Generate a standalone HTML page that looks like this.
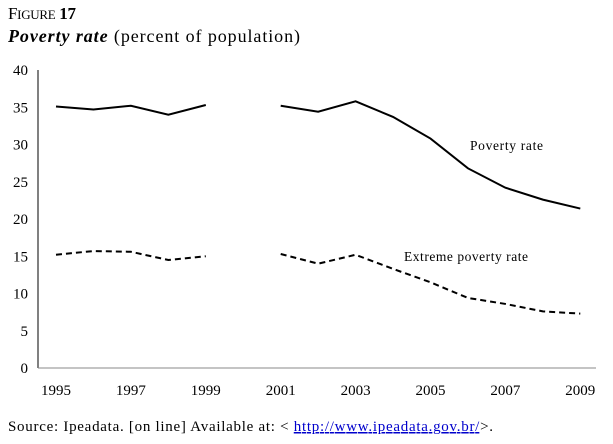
<!DOCTYPE html>
<html><head><meta charset="utf-8"><style>
body{margin:0;background:#fff;width:613px;height:444px;overflow:hidden;font-family:"Liberation Serif",serif;}
svg{display:block}
</style></head><body>
<svg width="613" height="444">
<text x="8" y="19" font-size="17" textLength="68">F<tspan font-size="13">IGURE</tspan> <tspan font-weight="bold">17</tspan></text>
<text x="8" y="42" font-size="18" textLength="292"><tspan font-style="italic" font-weight="bold">Poverty rate</tspan>  (percent of population)</text>
<g id="axes"></g>
<g id="series"></g>
<text x="470" y="150" font-size="13.5" textLength="73">Poverty rate</text>
<text x="404" y="261" font-size="13.5" textLength="124">Extreme poverty rate</text>
<text x="8" y="431" font-size="15" textLength="485">Source: Ipeadata. [on line] Available at: &lt; <tspan fill="#0000cc" text-decoration="underline">http://www.ipeadata.gov.br/</tspan>&gt;.</text>
</svg>
<script>
const years=[1995,1996,1997,1998,1999,2000,2001,2002,2003,2004,2005,2006,2007,2008,2009];
const poverty=[35.1,34.7,35.2,34.0,35.3,null,35.2,34.4,35.8,33.7,30.8,26.8,24.2,22.6,21.4];
const extreme=[15.2,15.7,15.6,14.5,15.0,null,15.3,14.0,15.2,13.3,11.5,9.4,8.6,7.6,7.3];
const yTicks=[0,5,10,15,20,25,30,35,40];
const xTickLabels=[1995,1997,1999,2001,2003,2005,2007,2009];
const NS="http://www.w3.org/2000/svg";
const x=v=>56+(v-1995)*37.45;
const y=v=>368-v*7.45;
function mk(tag,attrs,parent){const e=document.createElementNS(NS,tag);for(const k in attrs)e.setAttribute(k,attrs[k]);parent.appendChild(e);return e;}
const ax=document.getElementById('axes');
let a=mk('line',{x1:38,y1:70,x2:38,y2:368,stroke:'#000','stroke-width':1},ax);


a=mk('line',{x1:38,y1:368,x2:596,y2:368,stroke:'#888','stroke-width':1},ax);


yTicks.forEach(t=>{const e=mk('text',{x:28,y:y(t)+5,'text-anchor':'end','font-size':15},ax);e.textContent=t;

});
xTickLabels.forEach(t=>{const e=mk('text',{x:x(t),y:395,'text-anchor':'middle','font-size':15},ax);e.textContent=t;

});
const sg=document.getElementById('series');
function draw(vals,dash,name){let segs=[],cur=[];vals.forEach((v,i)=>{if(v==null){if(cur.length)segs.push(cur);cur=[];}else cur.push(x(years[i])+','+y(v));});if(cur.length)segs.push(cur);
segs.forEach(s=>{const p=mk('polyline',{points:s.join(' '),fill:'none',stroke:'#000','stroke-width':2,'stroke-dasharray':dash},sg);

});}
draw(poverty,'none','poverty-rate-line');
draw(extreme,'6,4','extreme-poverty-rate-line');
</script>
</body></html>
